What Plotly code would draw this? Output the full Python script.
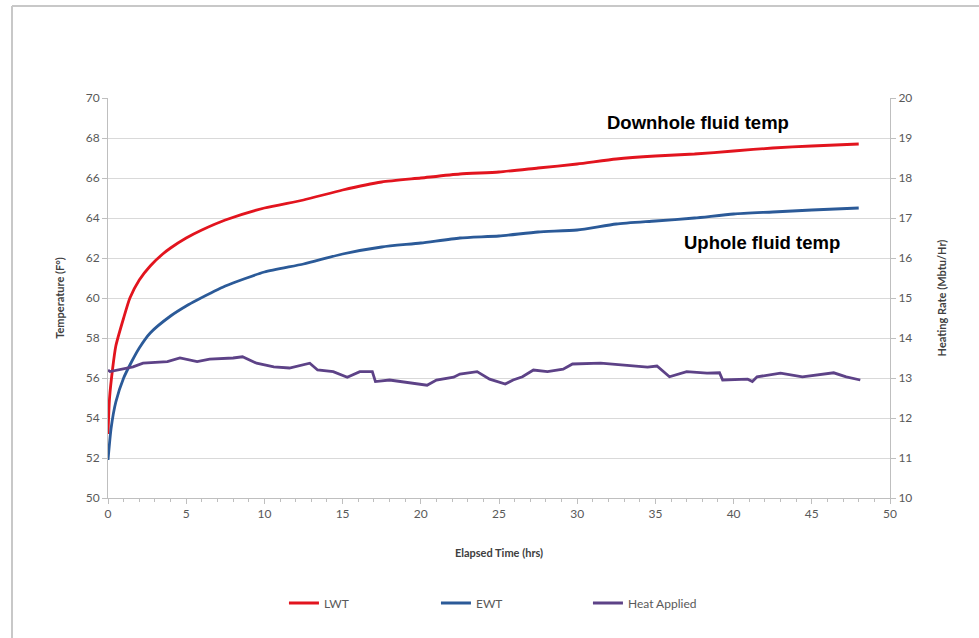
import plotly.graph_objects as go

# Elapsed time (hrs) and temperatures (F)
lwt_t = [0, 0.1, 0.3, 0.5, 1.0, 1.4, 2.0, 2.7, 3.5, 4, 5, 6, 7.5, 10, 12.5, 15, 17.5, 20, 22.5, 25, 27.5, 30,
         32.5, 35, 37.5, 40, 42.5, 45, 48]
lwt = [53.2, 55.0, 56.5, 57.6, 59.0, 60.0, 60.9, 61.6, 62.2, 62.5, 63.0, 63.4, 63.9, 64.5, 64.9, 65.4, 65.8,
       66.0, 66.2, 66.3, 66.5, 66.7, 66.95, 67.1, 67.2, 67.35, 67.5, 67.6, 67.7]

ewt_t = [0, 0.2, 0.5, 1.0, 1.5, 2.0, 2.7, 4, 5, 5.7, 7.5, 10, 12.5, 15, 17.5, 20, 22.5, 25, 27.5, 30,
         32.5, 35, 37.5, 40, 42.5, 45, 48]
ewt = [51.9, 53.5, 54.8, 56.0, 56.8, 57.5, 58.25, 59.1, 59.6, 59.9, 60.6, 61.3, 61.7, 62.2, 62.55, 62.75,
       63.0, 63.1, 63.3, 63.4, 63.7, 63.85, 64.0, 64.2, 64.3, 64.4, 64.5]

# Heat applied (Mbtu/Hr)
heat_t = [0.0, 0.13, 1.6, 2.24, 3.8, 4.6, 5.7, 6.5, 8.0, 8.6, 9.5, 10.6, 11.6, 12.9, 13.4, 14.4, 15.3,
          16.1, 16.9, 17.1, 18.0, 19.3, 20.4, 21.0, 22.1, 22.5, 23.6, 24.4, 25.4, 25.9, 26.5, 27.2,
          28.1, 29.1, 29.7, 31.5, 32.7, 34.5, 35.1, 35.9, 37.0, 38.3, 39.1, 39.3, 40.9, 41.2, 41.5,
          43.0, 44.4, 46.4, 47.2, 48.1]
heat = [13.2, 13.16, 13.28, 13.37, 13.41, 13.5, 13.41, 13.47, 13.5, 13.53, 13.37, 13.28, 13.25, 13.37,
        13.2, 13.16, 13.02, 13.16, 13.16, 12.91, 12.95, 12.87, 12.82, 12.95, 13.02, 13.1, 13.16, 12.97,
        12.85, 12.95, 13.03, 13.2, 13.16, 13.22, 13.35, 13.37, 13.33, 13.27, 13.3, 13.03, 13.16, 13.12,
        13.13, 12.95, 12.97, 12.91, 13.03, 13.12, 13.03, 13.13, 13.03, 12.95]

x_ticks = [0, 5, 10, 15, 20, 25, 30, 35, 40, 45, 50]
left_ticks = [50, 52, 54, 56, 58, 60, 62, 64, 66, 68, 70]
right_ticks = [10, 11, 12, 13, 14, 15, 16, 17, 18, 19, 20]

FONT = "Lato, 'Open Sans', sans-serif"
GRAY = "#595959"

fig = go.Figure()
fig.add_trace(go.Scatter(x=lwt_t, y=lwt, name="LWT", mode="lines",
                         line=dict(color="#E2141E", width=2.8, shape="spline", smoothing=0.6)))
fig.add_trace(go.Scatter(x=ewt_t, y=ewt, name="EWT", mode="lines",
                         line=dict(color="#2B5A98", width=2.8, shape="spline", smoothing=0.6)))
fig.add_trace(go.Scatter(x=heat_t, y=heat, name="Heat Applied", mode="lines", yaxis="y2",
                         line=dict(color="#5D4287", width=2.8)))

axis_common = dict(showline=True, linecolor="#BFBFBF", linewidth=1, ticks="outside",
                   tickcolor="#BFBFBF", ticklen=5, tickfont=dict(family=FONT, size=12, color=GRAY),
                   zeroline=False)

fig.update_layout(
    width=979, height=638,
    margin=dict(l=108, r=89, t=98, b=140),
    paper_bgcolor="white", plot_bgcolor="white",
    font=dict(family=FONT, color=GRAY),
    xaxis=dict(range=[0, 50], tickvals=x_ticks, showgrid=False,
               minor=dict(dtick=1, ticks="outside", ticklen=3, tickcolor="#BFBFBF"),
               title=dict(text="<b>Elapsed Time (hrs)</b>", font=dict(family=FONT, size=11, color="#404040"),
                          standoff=28),
               **axis_common),
    yaxis=dict(range=[50, 70], tickvals=left_ticks, showgrid=True, gridcolor="#D9D9D9", gridwidth=1,
               title=dict(text="<b>Temperature (F°)</b>", font=dict(family=FONT, size=11, color="#404040"),
                          standoff=18),
               **axis_common),
    yaxis2=dict(range=[10, 20], tickvals=right_ticks, overlaying="y", side="right", showgrid=False,
                title=dict(text="<b>Heating Rate (Mbtu/Hr)</b>", font=dict(family=FONT, size=11, color="#404040"),
                           standoff=26),
                **axis_common),
    legend=dict(orientation="h", x=0.225, xanchor="left", y=-0.2625, yanchor="middle",
                entrywidth=107, entrywidthmode="pixels",
                font=dict(family=FONT, size=12, color=GRAY), bgcolor="rgba(0,0,0,0)"),
    showlegend=True,
)

ann_font = dict(family="'Liberation Sans', Arial, sans-serif", size=18.5, color="black")
fig.add_annotation(x=37.7, y=68.8, xref="x", yref="y", text="<b>Downhole fluid temp</b>",
                   showarrow=False, font=ann_font)
fig.add_annotation(x=41.8, y=62.8, xref="x", yref="y", text="<b>Uphole fluid temp</b>",
                   showarrow=False, font=ann_font)

# Outer chart frame (left and top edges visible)
fig.add_shape(type="line", xref="paper", yref="paper", x0=(12 - 108) / 782, x1=(12 - 108) / 782,
              y0=(498 - 6) / 400, y1=(498 - 640) / 400, line=dict(color="#C8C8C8", width=2))
fig.add_shape(type="line", xref="paper", yref="paper", x0=(12 - 108) / 782, x1=(980 - 108) / 782,
              y0=(498 - 6) / 400, y1=(498 - 6) / 400, line=dict(color="#C8C8C8", width=2))

fig.write_html("out.html", config={"displayModeBar": False},
               post_script="document.body.style.margin='0';")
